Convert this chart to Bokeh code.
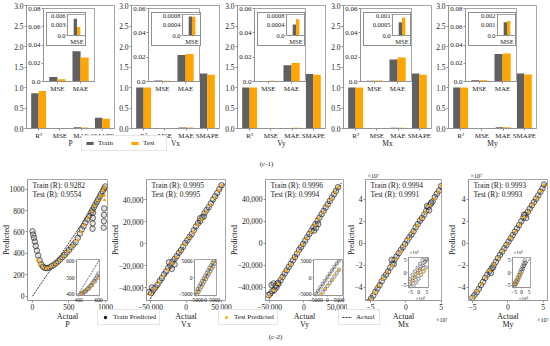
import math
from bokeh.plotting import figure
from bokeh.models import (Range1d, FactorRange, FixedTicker, NumeralTickFormatter,
                          CustomJSTickFormatter, Label, Legend, LegendItem,
                          ColumnDataSource, Column)
from bokeh.transform import dodge
from bokeh.embed import file_html
from bokeh.resources import INLINE

FONT = "Liberation Serif"
GRAY = "#606060"
ORANGE = "#FFA500"
SPINE = "#8f8f8f"
TXT = "#1a1a1a"
NAN = float("nan")

# ---------------- (c-1) bar data ----------------
metrics = ["R²", "MSE", "MAE", "SMAPE"]
inset_metrics = ["MSE", "MAE"]
targets = ["P", "Vx", "Vy", "Mx", "My"]
train_P = [0.862, 0.0048, 0.0332, 0.26]
test_P = [0.913, 0.0024, 0.0264, 0.24]
train_Vx = [0.999, 0.00072, 0.0218, 1.34]
test_Vx = [0.999, 0.00071, 0.0226, 1.31]
train_Vy = [0.9992, 0.00042, 0.0134, 1.33]
test_Vy = [0.9988, 0.00062, 0.0153, 1.31]
train_Mx = [0.9988, 0.00063, 0.0181, 1.34]
test_Mx = [0.9982, 0.00084, 0.0198, 1.31]
train_My = [0.9986, 0.00126, 0.0302, 1.34]
test_My = [0.9986, 0.00137, 0.0308, 1.32]

main_ticks = [0, 0.5, 1.0, 1.5, 2.0, 2.5, 3.0]
outer_max = [0.08, 0.06, 0.06, 0.06, 0.08]
outer_ticks = [[0, 0.02, 0.04, 0.06, 0.08], [0, 0.02, 0.04, 0.06], [0, 0.02, 0.04, 0.06],
               [0, 0.02, 0.04, 0.06], [0, 0.02, 0.04, 0.06, 0.08]]
inner_max = [0.006, 0.0008, 0.0008, 0.001, 0.002]
inner_ticks = [[0, 0.003, 0.006], [0, 0.0004, 0.0008], [0, 0.0004, 0.0008],
               [0, 0.0005, 0.001], [0, 0.001, 0.002]]

# ---------------- (c-2) scatter data ----------------
r_train = ["0.9282", "0.9995", "0.9996", "0.9994", "0.9993"]
r_test = ["0.9554", "0.9995", "0.9994", "0.9991", "0.9993"]

p_train_actual = [0, 10, 20, 32, 45, 60, 78, 98, 120, 145, 170, 200, 230, 260, 290, 320, 350, 380, 410, 440,
                  470, 500, 530, 560, 590, 620, 650, 675, 700, 725, 750, 775, 800, 820, 840, 860, 880, 900, 920, 940,
                  960, 980, 995, 822, 824, 826, 828, 975, 977, 979, 981]
p_train_pred = [606, 575, 545, 510, 470, 425, 380, 335, 298, 275, 263, 262, 268, 280, 292, 308, 325, 345, 365, 385,
                408, 432, 458, 482, 505, 545, 585, 625, 655, 690, 720, 750, 780, 805, 830, 855, 880, 905, 930, 955,
                980, 1005, 1025, 630, 680, 730, 780, 640, 700, 760, 820]
p_test_actual = [70, 100, 140, 190, 250, 310, 370, 430, 490, 550, 610, 660, 710, 760, 810, 850, 890, 930, 965, 990, 985, 985]
p_test_pred = [340, 305, 272, 262, 276, 300, 335, 375, 422, 470, 525, 600, 665, 735, 795, 845, 895, 940, 985, 1015, 940, 900]

vx_train_actual = [-52000, -49000, -46000, -43000, -40000, -37000, -34000, -31000, -28000, -25000,
                   -22000, -19000, -16000, -13000, -10000, -7000, -4000, -1000, 2000, 5000,
                   8000, 11000, 14000, 17000, 20000, 23000, 26000, 29000, 32000, 35000,
                   38000, 41000, 44000, 47000, 50000, -48000, -24000, -20000, -16000, 20000, 25000]
vx_train_pred = [-44000, -45000, -42000, -40000, -37500, -34000, -31500, -28000, -25500, -22000,
                 -20000, -16500, -14000, -11500, -8500, -6000, -3000, 500, 3000, 6000,
                 8500, 12000, 15500, 18500, 20500, 24000, 27500, 30500, 33000, 36500,
                 40000, 43000, 46000, 49500, 53000, -40000, -17000, -23000, -19000, 23000, 24500]
vx_test_actual = [-50000, -44000, -38000, -32000, -26000, -20000, -14000, -8000, -2000, 4000,
                  10000, 16000, 22000, 28000, 34000, 40000, 46000, 50000]
vx_test_pred = [-46000, -41000, -35500, -30000, -24000, -18000, -12500, -7000, -1000, 5000,
                10500, 17000, 22000, 29000, 35000, 41500, 48000, 52500]

vy_train_actual = [-52000, -49000, -46000, -43000, -40000, -37000, -34000, -31000, -28000, -25000,
                   -22000, -19000, -16000, -13000, -10000, -7000, -4000, -1000, 2000, 5000,
                   8000, 11000, 14000, 17000, 20000, 23000, 26000, 29000, 32000, 35000,
                   38000, 41000, 44000, 47000, 50000, -47000, -44000, -41000, -38000, 15000, 18000, 21000]
vy_train_pred = [-47000, -46000, -43500, -42500, -40000, -37000, -33500, -30500, -27500, -24500,
                 -21500, -18500, -15500, -12500, -9500, -6000, -3500, -500, 2500, 5500,
                 8500, 11500, 14500, 17500, 20500, 23500, 26500, 29500, 32500, 35500,
                 38500, 41500, 44500, 47500, 51000, -38000, -36500, -38500, -36000, 11500, 14000, 17500]
vy_test_actual = [-50000, -44000, -38000, -32000, -26000, -20000, -14000, -8000, -2000, 4000,
                  10000, 16000, 22000, 28000, 34000, 40000, 46000, 50000]
vy_test_pred = [-48000, -42500, -37000, -31000, -25000, -19500, -13000, -7500, -1500, 4500,
                10000, 16500, 22500, 28000, 34500, 40000, 46500, 51000]

mx_train_actual = [-5.2e7, -4.9e7, -4.6e7, -4.3e7, -4.0e7, -3.7e7, -3.4e7, -3.1e7, -2.8e7, -2.5e7,
                   -2.2e7, -1.9e7, -1.6e7, -1.3e7, -1.0e7, -0.7e7, -0.4e7, -0.1e7, 0.2e7, 0.5e7,
                   0.8e7, 1.1e7, 1.4e7, 1.7e7, 2.0e7, 2.3e7, 2.6e7, 2.9e7, 3.2e7, 3.5e7,
                   3.8e7, 4.1e7, 4.4e7, 4.7e7, 5.0e7, -2.0e7, -1.7e7, 3.0e7, 3.3e7, 3.6e7]
mx_train_pred = [-5.3e7, -5.0e7, -4.75e7, -4.4e7, -4.1e7, -3.8e7, -3.45e7, -3.1e7, -2.85e7, -2.55e7,
                 -2.2e7, -1.85e7, -1.5e7, -1.2e7, -0.9e7, -0.6e7, -0.35e7, -0.05e7, 0.25e7, 0.55e7,
                 0.8e7, 1.1e7, 1.45e7, 1.75e7, 2.05e7, 2.3e7, 2.6e7, 2.95e7, 3.3e7, 3.55e7,
                 3.8e7, 4.2e7, 4.5e7, 4.8e7, 5.2e7, -1.5e7, -1.9e7, 3.4e7, 3.0e7, 3.7e7]
mx_test_actual = [-5.0e7, -4.4e7, -3.8e7, -3.2e7, -2.6e7, -2.0e7, -1.4e7, -0.8e7, -0.2e7, 0.4e7,
                  1.0e7, 1.6e7, 2.2e7, 2.8e7, 3.4e7, 4.0e7, 4.6e7, 5.0e7]
mx_test_pred = [-5.1e7, -4.5e7, -3.85e7, -3.25e7, -2.6e7, -2.05e7, -1.4e7, -0.75e7, -0.2e7, 0.4e7,
                1.05e7, 1.6e7, 2.25e7, 2.8e7, 3.45e7, 4.05e7, 4.7e7, 5.25e7]

my_train_actual = [-5.0e7, -4.7e7, -4.4e7, -4.1e7, -3.8e7, -3.5e7, -3.2e7, -2.9e7, -2.6e7, -2.3e7,
                   -2.0e7, -1.7e7, -1.4e7, -1.1e7, -0.8e7, -0.5e7, -0.2e7, 0.1e7, 0.4e7, 0.7e7,
                   1.0e7, 1.3e7, 1.6e7, 1.9e7, 2.2e7, 2.5e7, 2.8e7, 3.1e7, 3.4e7, 3.7e7,
                   4.0e7, 4.3e7, 4.6e7, 4.9e7, 5.1e7, 2.3e7, 2.6e7, -2.4e7, -2.1e7]
my_train_pred = [-4.95e7, -4.7e7, -4.45e7, -4.15e7, -3.8e7, -3.5e7, -3.15e7, -2.85e7, -2.55e7, -2.3e7,
                 -2.0e7, -1.7e7, -1.35e7, -1.05e7, -0.75e7, -0.45e7, -0.15e7, 0.15e7, 0.45e7, 0.75e7,
                 1.05e7, 1.35e7, 1.65e7, 2.0e7, 2.35e7, 2.6e7, 2.85e7, 3.15e7, 3.45e7, 3.75e7,
                 4.05e7, 4.35e7, 4.7e7, 5.0e7, 5.35e7, 2.6e7, 2.3e7, -2.7e7, -2.2e7]
my_test_actual = [-4.9e7, -4.3e7, -3.7e7, -3.1e7, -2.5e7, -1.9e7, -1.3e7, -0.7e7, -0.1e7, 0.5e7,
                  1.1e7, 1.7e7, 2.3e7, 2.9e7, 3.5e7, 4.1e7, 4.7e7, 5.1e7]
my_test_pred = [-4.9e7, -4.3e7, -3.65e7, -3.1e7, -2.5e7, -1.9e7, -1.3e7, -0.7e7, -0.1e7, 0.5e7,
                1.1e7, 1.7e7, 2.4e7, 2.9e7, 3.5e7, 4.1e7, 4.75e7, 5.3e7]

# zoomed-in (inset) samples
pz_train_actual = [420, 435, 450, 465, 480, 495, 510, 525, 540, 555, 570, 585, 600, 445, 475, 505, 535, 565, 595]
pz_train_pred = [398, 404, 411, 418, 426, 435, 445, 456, 468, 481, 495, 510, 526, 400, 415, 432, 452, 476, 500]
pz_test_actual = [430, 460, 490, 520, 550, 580]
pz_test_pred = [402, 414, 430, 448, 470, 498]

vxz_train_actual = [-5000, -4200, -3400, -2600, -1800, -1000, -200, 600, 1400, 2200, 3000, 3800, 4600,
                    -4600, -3800, -3000, -2200, -1400, -600, 200, 1000, 1800, 2600, 3400, 4200, 5000]
vxz_train_pred = [-4400, -3500, -2700, -1900, -1000, -300, 500, 1400, 2200, 3000, 3800, 4600, 5200,
                  -5300, -4500, -3700, -2900, -2100, -1300, -500, 300, 1100, 1900, 2700, 3500, 4300]
vxz_test_actual = [-4500, -3000, -1500, 0, 1500, 3000, 4500]
vxz_test_pred = [-4600, -3200, -1400, -200, 1600, 2900, 4700]

vyz_train_actual = [-5000, -4000, -3000, -2000, -1000, 0, 1000, 2000, 3000, 4000, 5000,
                    -3000, -2000, -1000, 0, 1000, 2000, 3000, 4000, 5000]
vyz_train_pred = [-4800, -3900, -2900, -1900, -900, 100, 1100, 2100, 3100, 4100, 5000,
                  -5200, -4300, -3400, -2500, -1600, -700, 300, 1300, 2300]
vyz_test_actual = [-2500, -1000, 500, 2000, 3500, 5000]
vyz_test_pred = [-4800, -3400, -2100, -700, 800, 2200]

mxz_train_actual = [-5.0e6, -3.5e6, -2.0e6, -0.5e6, 1.0e6, 2.5e6, 4.0e6, 5.0e6,
                    -5.0e6, -3.5e6, -2.0e6, -0.5e6, 1.0e6, 2.5e6,
                    -3.0e6, -1.5e6, 0.0, 1.5e6, 3.0e6, 4.5e6]
mxz_train_pred = [-4.6e6, -3.2e6, -1.7e6, -0.2e6, 1.3e6, 2.8e6, 4.3e6, 5.3e6,
                  -2.6e6, -1.0e6, 0.5e6, 2.0e6, 3.5e6, 5.0e6,
                  -5.5e6, -4.0e6, -2.5e6, -1.0e6, 0.5e6, 2.0e6]
mxz_test_actual = [-4.0e6, -2.5e6, -1.0e6, 0.5e6, 2.0e6, 3.5e6]
mxz_test_pred = [-3.7e6, -2.2e6, -0.7e6, 0.8e6, -0.4e6, 1.0e6]

myz_train_actual = [-5.0e6, -4.2e6, -3.4e6, -2.6e6, -1.8e6, -1.0e6, -0.2e6, 0.6e6, 1.4e6, 2.2e6,
                    -4.6e6, -3.8e6, -3.0e6, -2.2e6, -1.4e6, -0.6e6, 0.2e6, 1.0e6, 1.8e6, 2.6e6]
myz_train_pred = [-4.8e6, -4.0e6, -3.1e6, -2.1e6, -1.0e6, 0.1e6, 1.2e6, 2.4e6, 3.6e6, 4.8e6,
                  -5.3e6, -4.6e6, -3.8e6, -2.9e6, -1.9e6, -0.8e6, 0.3e6, 1.5e6, 2.7e6, 3.9e6]
myz_test_actual = [-4.5e6, -3.5e6, -2.5e6, -1.5e6, -0.5e6]
myz_test_pred = [-4.7e6, -3.6e6, -2.4e6, -1.3e6, -0.1e6]

line_P = [0, 1000]
line_V = [-55000, 55000]
line_M = [-5.5e7, 5.5e7]

# axis ranges and ticks of the scatter panels
bx = [(-68, 1027), (-55600, 55600), (-56000, 58000), (-5.7e7, 5.05e7), (-5.55e7, 5.6e7)]
by = [(-40, 1090), (-51800, 58200), (-52000, 58000), (-5.2e7, 5.8e7), (-5.2e7, 5.8e7)]
bxt = [[0, 500, 1000], [-50000, 0, 50000], [-50000, 0, 50000], [-5e7, 0, 5e7], [-5e7, 0, 5e7]]
byt = [[0, 200, 400, 600, 800, 1000], [-40000, -20000, 0, 20000, 40000], [-40000, -20000, 0, 20000, 40000],
       [-4e7, -2e7, 0, 2e7, 4e7], [-4e7, -2e7, 0, 2e7, 4e7]]
ix = [(380, 610), (-6000, 6000), (-6000, 6500), (-6e6, 6e6), (-6e6, 6e6)]
iy = [(390, 612), (-5600, 5600), (-5300, 5300), (-6e6, 6e6), (-6e6, 6e6)]
ixt = [[400, 600], [-5000, 0, 5000], [-5000, 0, 5000], [-5e6, 0, 5e6], [-5e6, 0, 5e6]]
iyt = [[400, 500, 600], [-5000, 0, 5000], [-5000, 0, 5000], [-5e6, 0, 5e6], [-5e6, 0, 5e6]]

train_bars = [train_P, train_Vx, train_Vy, train_Mx, train_My]
test_bars = [test_P, test_Vx, test_Vy, test_Mx, test_My]
sc_train = [(p_train_actual, p_train_pred), (vx_train_actual, vx_train_pred), (vy_train_actual, vy_train_pred),
            (mx_train_actual, mx_train_pred), (my_train_actual, my_train_pred)]
sc_test = [(p_test_actual, p_test_pred), (vx_test_actual, vx_test_pred), (vy_test_actual, vy_test_pred),
           (mx_test_actual, mx_test_pred), (my_test_actual, my_test_pred)]
z_train = [(pz_train_actual, pz_train_pred), (vxz_train_actual, vxz_train_pred), (vyz_train_actual, vyz_train_pred),
           (mxz_train_actual, mxz_train_pred), (myz_train_actual, myz_train_pred)]
z_test = [(pz_test_actual, pz_test_pred), (vxz_test_actual, vxz_test_pred), (vyz_test_actual, vyz_test_pred),
          (mxz_test_actual, mxz_test_pred), (myz_test_actual, myz_test_pred)]
lines = [line_P, line_V, line_V, line_M, line_M]

# ---------------- layout (page pixel geometry) ----------------
TOP_FL = [26, 131, 237, 343, 448]
TOP_FW = 88
B_FL = [27, 146, 265, 365, 468]
B_FW = [80, 79, 78, 76, 79]
B_FT = 179
B_FH = 121
B_BR = [10, 10, 4, 14, 3]
PRED_DX = [-21, -31, -31, -14, -16]
INSET = [(76, 259, 23, 36), (194, 259, 22, 36), (313, 259, 29, 36), (408, 257, 20, 30), (512, 257, 18, 30)]
INNER_W = [40, 50, 48, 48, 48]

figs = []
page_texts = []   # (x, y, text, size, align, angle) in page pixels, drawn on the overlay


def make_fig(fl, ft, fw, fh, xr, yr, bl, br, bt, bb, **kw):
    p = figure(width=bl + fw + br, height=bt + fh + bb, x_range=xr, y_range=yr, title=None,
               toolbar_location=None, output_backend="svg", tools="", frame_align=False,
               min_border_left=bl, min_border_right=br, min_border_top=bt, min_border_bottom=bb, **kw)
    p.styles = {"position": "absolute", "left": f"{fl - bl}px", "top": f"{ft - bt}px"}
    p.border_fill_color = None
    p.background_fill_color = "white"
    p.outline_line_color = SPINE
    p.outline_line_width = 0.8
    p.grid.visible = False
    figs.append(p)
    return p


def style_axes(p, fs, tick_out=2, standoff=1):
    for ax in p.axis:
        ax.axis_line_color = SPINE
        ax.axis_line_width = 0.8
        ax.major_tick_line_color = SPINE
        ax.major_tick_in = 0
        ax.major_tick_out = tick_out
        ax.minor_tick_line_color = None
        ax.major_label_text_font = FONT
        ax.major_label_text_font_size = fs
        ax.major_label_text_color = TXT
        ax.major_label_standoff = standoff
        ax.axis_label = None


def add_text(p, x, y, text, size, align="center"):
    p.add_layout(Label(x=x, y=y, x_units="screen", y_units="screen", text=text,
                       text_align=align, text_baseline="middle", text_font=FONT,
                       text_font_size=size, text_color=TXT))


inset_fmt = CustomJSTickFormatter(code="return tick === 0 ? '0.0' : tick.toString();")
comma_fmt = CustomJSTickFormatter(code="const s = Math.abs(tick).toLocaleString('en-US'); return tick < 0 ? '\u2212' + s : s;")
plain_fmt = CustomJSTickFormatter(code="return tick < 0 ? '\u2212' + Math.abs(tick) : String(tick);")
e7_fmt = CustomJSTickFormatter(code="const v = Math.round(tick / 1e7); return v < 0 ? '\u2212' + Math.abs(v) : String(v);")
e6_fmt = CustomJSTickFormatter(code="const v = Math.round(tick / 1e6); return v < 0 ? '\u2212' + Math.abs(v) : String(v);")

# ---------------- (c-1) bar panels ----------------
for i, t in enumerate(targets):
    FL = TOP_FL[i]
    xr = FactorRange(factors=metrics, range_padding=0.07, range_padding_units="absolute")
    p = make_fig(FL, 5, TOP_FW, 123, xr, Range1d(0, 3.0), 26, 12, 5, 30)
    src = ColumnDataSource(dict(metric=metrics, train=train_bars[i], test=test_bars[i]))
    p.vbar(x=dodge("metric", -0.175, range=xr), top="train", width=0.35, source=src,
           fill_color=GRAY, line_color=None)
    p.vbar(x=dodge("metric", 0.175, range=xr), top="test", width=0.35, source=src,
           fill_color=ORANGE, line_color=None)
    p.yaxis.ticker = FixedTicker(ticks=main_ticks)
    p.yaxis.formatter = NumeralTickFormatter(format="0.0")
    style_axes(p, "7.5px")
    p.xaxis.major_label_text_font_size = "7px"
    page_texts.append((FL + TOP_FW / 2, 143, t, "7.5px", "center", 0.0))

    # first inset: MSE and MAE
    xr2 = FactorRange(factors=inset_metrics, range_padding=0.1, range_padding_units="absolute")
    q = make_fig(FL + 17, 8, 51, 73, xr2, Range1d(0, outer_max[i]), 24, 4, 5, 14)
    src2 = ColumnDataSource(dict(metric=inset_metrics, train=train_bars[i][1:3], test=test_bars[i][1:3]))
    q.vbar(x=dodge("metric", -0.175, range=xr2), top="train", width=0.35, source=src2,
           fill_color=GRAY, line_color=None)
    q.vbar(x=dodge("metric", 0.175, range=xr2), top="test", width=0.35, source=src2,
           fill_color=ORANGE, line_color=None)
    q.yaxis.ticker = FixedTicker(ticks=outer_ticks[i])
    q.yaxis.formatter = inset_fmt
    style_axes(q, "7px")

    # second inset: MSE only, in a framed white box
    bw = INNER_W[i]
    xr3 = FactorRange(factors=["MSE"], range_padding=0.5, range_padding_units="absolute")
    r = make_fig(FL + 20 + bw - 20, 13, 19, 25, xr3, Range1d(0, inner_max[i]), bw - 20, 1, 1, 8)
    r.border_fill_color = "white"
    r.styles = dict(r.styles, border=f"1px solid {SPINE}")
    src3 = ColumnDataSource(dict(metric=["MSE"], train=train_bars[i][1:2], test=test_bars[i][1:2]))
    r.vbar(x=dodge("metric", -0.175, range=xr3), top="train", width=0.35, source=src3,
           fill_color=GRAY, line_color=None)
    r.vbar(x=dodge("metric", 0.175, range=xr3), top="test", width=0.35, source=src3,
           fill_color=ORANGE, line_color=None)
    r.yaxis.ticker = FixedTicker(ticks=inner_ticks[i])
    r.yaxis.formatter = inset_fmt
    style_axes(r, "6.5px", tick_out=1, standoff=1)

# ---------------- (c-2) scatter panels ----------------
yfmts = [None, comma_fmt, comma_fmt, e7_fmt, e7_fmt]
ifmts = [None, plain_fmt, plain_fmt, e6_fmt, e6_fmt]
for i, t in enumerate(targets):
    fl, fw = B_FL[i], B_FW[i]
    p = make_fig(fl, B_FT, fw, B_FH, Range1d(*bx[i]), Range1d(*by[i]), 40, B_BR[i], 8, 36)
    p.line(lines[i], lines[i], line_dash="2 1", line_color="black", line_width=0.8)
    p.scatter(sc_train[i][0], sc_train[i][1], marker="circle", size=5.5, fill_color="#9a9a9a",
              fill_alpha=0.3, line_color="#111111", line_alpha=0.85, line_width=0.7)
    p.scatter(sc_test[i][0], sc_test[i][1], marker="triangle", size=3.8, fill_color=ORANGE,
              line_color=None)
    p.xaxis.ticker = FixedTicker(ticks=bxt[i])
    p.yaxis.ticker = FixedTicker(ticks=byt[i])
    if yfmts[i] is not None:
        p.xaxis.formatter = yfmts[i]
        p.yaxis.formatter = yfmts[i]
    style_axes(p, "7.5px")
    add_text(p, 5, 115, "Train (R): " + r_train[i], "7.5px", align="left")
    add_text(p, 5, 106, "Test (R): " + r_test[i], "7.5px", align="left")
    cx = fl + fw / 2
    page_texts.append((cx, B_FT + B_FH + 16, "Actual", "8px", "center", 0.0))
    page_texts.append((cx, B_FT + B_FH + 24, t, "8px", "center", 0.0))
    page_texts.append((fl + PRED_DX[i], B_FT + B_FH / 2, "Predicted", "8px", "center", math.pi / 2))
    if i >= 3:
        page_texts.append((fl + 2, B_FT - 4, "×10⁷", "6px", "left", 0.0))
        page_texts.append((fl + fw + (6 if i == 3 else 1), B_FT + B_FH + 19, "×10⁷", "6px", "right", 0.0))

    # zoom inset
    ifl, ift, ifw, ifh = INSET[i]
    bt_i, bb_i = (4, 10)
    q = make_fig(ifl, ift, ifw, ifh, Range1d(*ix[i]), Range1d(*iy[i]), 20, 8, bt_i, bb_i)
    q.line(lines[i], lines[i], line_dash="2 1", line_color="black", line_width=0.6)
    q.scatter(z_train[i][0], z_train[i][1], marker="circle", size=3.5, fill_color="#9a9a9a",
              fill_alpha=0.3, line_color="#222222", line_alpha=0.8, line_width=0.5)
    q.scatter(z_test[i][0], z_test[i][1], marker="triangle", size=3, fill_color=ORANGE,
              line_color=None)
    q.xaxis.ticker = FixedTicker(ticks=ixt[i])
    q.yaxis.ticker = FixedTicker(ticks=iyt[i])
    if ifmts[i] is not None:
        q.xaxis.formatter = ifmts[i]
        q.yaxis.formatter = ifmts[i]
    style_axes(q, "5.5px", tick_out=1, standoff=1)
    if i >= 3:
        page_texts.append((ifl + 1, ift - 5, "×10⁶", "5px", "left", 0.0))
        page_texts.append((ifl + ifw / 2 + 2, ift + ifh + 11, "×10⁶", "5px", "center", 0.0))

# ---------------- overlay: captions, outer labels and legends ----------------
ov = figure(width=550, height=346, x_range=Range1d(0, 550), y_range=Range1d(346, 0), title=None,
            toolbar_location=None, output_backend="svg", tools="", x_axis_type=None, y_axis_type=None,
            frame_align=False,
            min_border=0, min_border_left=0, min_border_right=0, min_border_top=0, min_border_bottom=0)
ov.styles = {"position": "absolute", "left": "0px", "top": "0px"}
ov.outline_line_color = None
ov.background_fill_color = None
ov.border_fill_color = None
ov.grid.visible = False

page_texts.append((266, 163, "(c-1)", "7px", "center", 0.0))
page_texts.append((275, 336, "(c-2)", "7px", "center", 0.0))
for (x, y, text, size, align, angle) in page_texts:
    ov.add_layout(Label(x=x, y=y, text=text, angle=angle, text_align=align, text_baseline="middle",
                        text_font=FONT, text_font_size=size, text_color=TXT))

# legend proxies (no visible data)
rb_train = ov.vbar(x=[NAN], top=[NAN], width=1, fill_color=GRAY, line_color=None)
rb_test = ov.vbar(x=[NAN], top=[NAN], width=1, fill_color=ORANGE, line_color=None)
rs_train = ov.scatter(x=[NAN], y=[NAN], marker="circle", size=5, fill_color="black", line_color="black")
rs_test = ov.scatter(x=[NAN], y=[NAN], marker="triangle", size=5, fill_color=ORANGE, line_color=ORANGE)
rl_act = ov.line(x=[NAN, NAN], y=[NAN, NAN], line_dash="2 1", line_color="black", line_width=0.8)


def add_legend(items, loc, orientation="vertical", gw=8, gh=4):
    leg = Legend(items=items, location=loc, orientation=orientation,
                 label_text_font=FONT, label_text_font_size="7px", label_text_color=TXT,
                 glyph_width=gw, glyph_height=gh, label_height=8, label_standoff=4,
                 spacing=12, padding=3, margin=0,
                 border_line_color="#cccccc", border_line_width=0.8,
                 background_fill_color="white", background_fill_alpha=1)
    ov.add_layout(leg)


add_legend([LegendItem(label="Train", renderers=[rb_train]),
            LegendItem(label="Test", renderers=[rb_test])], (81, 195), "horizontal", 9, 4)
add_legend([LegendItem(label="Train Predicted", renderers=[rs_train])], (97, 21), gw=8, gh=6)
add_legend([LegendItem(label="Test Predicted", renderers=[rs_test])], (218, 21), gw=8, gh=6)
add_legend([LegendItem(label="Actual", renderers=[rl_act])], (338, 21), gw=10, gh=6)

figs.append(ov)

root = Column(children=figs, width=550, height=346,
              styles={"position": "absolute", "left": "0px", "top": "0px", "overflow": "visible"})

open("out.html", "w").write(file_html(root, INLINE))
